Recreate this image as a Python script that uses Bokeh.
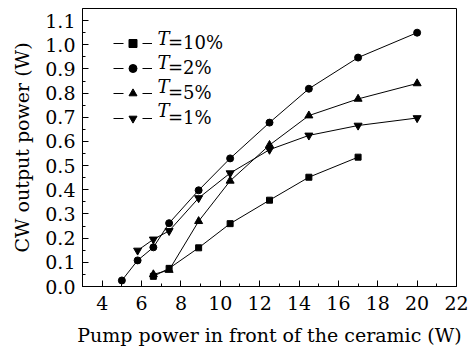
from bokeh.plotting import figure
from bokeh.models import Range1d, FixedTicker, Legend, LegendItem, Label, PrintfTickFormatter
from bokeh.embed import file_html
from bokeh.resources import INLINE

# Data
x_t10 = [6.6, 7.4, 8.9, 10.5, 12.5, 14.5, 17.0]
y_t10 = [0.042, 0.075, 0.16, 0.26, 0.357, 0.452, 0.535]

x_t2 = [5.0, 5.8, 6.6, 7.4, 8.9, 10.5, 12.5, 14.5, 17.0, 20.0]
y_t2 = [0.025, 0.108, 0.162, 0.262, 0.398, 0.53, 0.678, 0.818, 0.947, 1.05]

x_t5 = [6.6, 7.4, 8.9, 10.5, 12.5, 14.5, 17.0, 20.0]
y_t5 = [0.05, 0.068, 0.27, 0.437, 0.585, 0.707, 0.776, 0.84]

x_t1 = [5.8, 6.6, 7.4, 8.9, 10.5, 12.5, 14.5, 17.0, 20.0]
y_t1 = [0.149, 0.195, 0.23, 0.366, 0.469, 0.566, 0.625, 0.666, 0.697]

series_labels = ["=10%", "=2%", "=5%", "=1%"]
x_ticks = [4, 6, 8, 10, 12, 14, 16, 18, 20, 22]
x_minor = [3, 5, 7, 9, 11, 13, 15, 17, 19, 21]
y_ticks = [0.0, 0.1, 0.2, 0.3, 0.4, 0.5, 0.6, 0.7, 0.8, 0.9, 1.0, 1.1]
y_minor = [0.05, 0.15, 0.25, 0.35, 0.45, 0.55, 0.65, 0.75, 0.85, 0.95, 1.05]

FONT = "DejaVu Serif"
FS = "19px"
LFS = "18px"

p = figure(width=476, height=348, output_backend="svg", toolbar_location=None,
           x_range=Range1d(3, 22), y_range=Range1d(0, 1.15),
           min_border_left=82, min_border_right=20, min_border_top=8, min_border_bottom=62)
p.grid.visible = False
p.outline_line_color = "black"
p.outline_line_width = 1
p.background_fill_color = "white"
p.border_fill_color = "white"

p.xaxis.ticker = FixedTicker(ticks=x_ticks, minor_ticks=x_minor)
p.yaxis.ticker = FixedTicker(ticks=y_ticks, minor_ticks=y_minor)
p.yaxis.formatter = PrintfTickFormatter(format="%.1f")

for ax in (p.xaxis, p.yaxis):
    ax.axis_line_color = "black"
    ax.major_tick_line_color = "black"
    ax.minor_tick_line_color = "black"
    ax.major_tick_in = 6
    ax.major_tick_out = 0
    ax.minor_tick_in = 3
    ax.minor_tick_out = 0
    ax.major_label_text_font = FONT
    ax.major_label_text_font_size = FS
    ax.major_label_text_color = "black"
    ax.axis_label_text_font = FONT
    ax.axis_label_text_font_size = FS
    ax.axis_label_text_font_style = "normal"
    ax.axis_label_text_color = "black"

p.xaxis.axis_label = "Pump power in front of the ceramic (W)"
p.yaxis.axis_label = "CW output power (W)"
p.xaxis.major_label_standoff = 9
p.yaxis.major_label_standoff = 7
p.xaxis.axis_label_standoff = 11
p.yaxis.axis_label_standoff = 9

lw = 1
markers = ["square", "circle", "triangle", "inverted_triangle"]
sizes = [6, 7, 8, 8]
xs = [x_t10, x_t2, x_t5, x_t1]
ys = [y_t10, y_t2, y_t5, y_t1]

items = []
for xv, yv, mk, sz, lab in zip(xs, ys, markers, sizes, series_labels):
    p.line(xv, yv, line_color="black", line_width=lw)
    m = p.scatter(xv, yv, marker=mk, size=sz, color="black")
    # legend-only dashed stub ("- marker -"); a one-point line draws nothing in the plot
    stub = p.line(xv[:1], yv[:1], line_color="black", line_width=lw, line_dash="10 19")
    items.append(LegendItem(label=lab, renderers=[stub, m]))

legend = Legend(items=items, location=(31, 158), padding=0, margin=0, spacing=4,
                glyph_width=39, glyph_height=20, label_height=20, label_standoff=16,
                border_line_color=None, background_fill_alpha=0,
                label_text_font=FONT, label_text_font_size=LFS, label_text_color="black")
p.add_layout(legend, "center")

# italic T in legend entries
for i in range(4):
    p.add_layout(Label(x=75, y=248 - 24 * i, x_units="screen", y_units="screen", text="T",
                       text_font=FONT, text_font_style="italic", text_font_size=LFS,
                       text_color="black", text_baseline="middle", text_align="left"))

open("out.html", "w").write(file_html(p, INLINE))
